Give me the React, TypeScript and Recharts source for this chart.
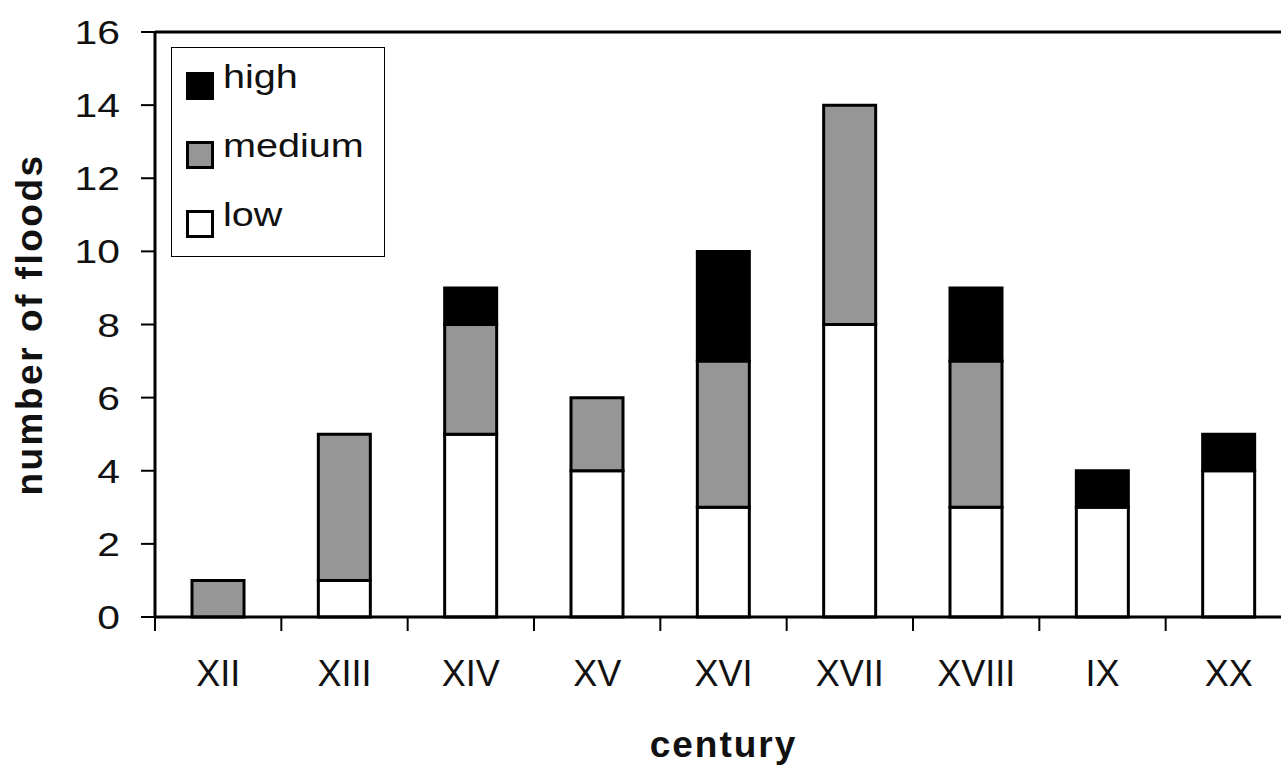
import { BarChart, Bar, XAxis, YAxis, Legend, ReferenceLine } from 'recharts';

const centuries = ['XII', 'XIII', 'XIV', 'XV', 'XVI', 'XVII', 'XVIII', 'IX', 'XX'];
const lowFloods = [0, 1, 5, 4, 3, 8, 3, 3, 4];
const mediumFloods = [1, 4, 3, 2, 4, 6, 4, 0, 0];
const highFloods = [0, 0, 1, 0, 3, 0, 2, 1, 1];
const yTicks = [0, 2, 4, 6, 8, 10, 12, 14, 16];

const series = [
  { key: 'low', name: 'low', fill: '#ffffff' },
  { key: 'medium', name: 'medium', fill: '#969696' },
  { key: 'high', name: 'high', fill: '#000000' },
];

const data = centuries.map((c, i) => ({
  century: c,
  low: lowFloods[i],
  medium: mediumFloods[i],
  high: highFloods[i],
}));

const FONT = '"Liberation Sans", Arial, sans-serif';
const CHART_W = 1300;
const MARGIN = { top: 32, right: 8, left: 0, bottom: 0 };
const Y_AXIS_W = 155;
const X_TICK_MARGIN = 43;

// y tick labels look a bit wide in the original, stretch them slightly
function YTick(props: any) {
  const { x, y, payload } = props;
  return (
    <text
      x={x}
      y={y}
      dy="0.355em"
      textAnchor="end"
      fontSize={34}
      fontFamily={FONT}
      fill="#111"
      transform={`translate(${x},0) scale(1.2,1) translate(${-x},0)`}
    >
      {payload.value}
    </text>
  );
}

// category label in the middle of the band, tick mark on the band's left edge
function XTick(props: any) {
  const { x, y, payload, visibleTicksCount } = props;
  const plotW = typeof props.width === 'number' ? props.width : CHART_W - Y_AXIS_W - MARGIN.right;
  const band = plotW / (visibleTicksCount || centuries.length);
  const axisY = y - X_TICK_MARGIN;
  const edge = x - band / 2;
  return (
    <g>
      <line x1={edge} x2={edge} y1={axisY} y2={axisY + 14} stroke="#000" strokeWidth={2} />
      <text
        x={x}
        y={y}
        dy="0.71em"
        textAnchor="middle"
        fontSize={36}
        fontFamily={FONT}
        fill="#111"
      >
        {payload.value}
      </text>
    </g>
  );
}

function LegendBox() {
  const rows = [...series].reverse();
  return (
    <div
      style={{
        width: 214,
        height: 210,
        boxSizing: 'border-box',
        border: '1.5px solid #000',
        background: '#fff',
        position: 'relative',
        fontFamily: FONT,
      }}
    >
      {rows.map((s, i) => (
        <div key={s.key} style={{ position: 'absolute', left: 14, top: 24 + i * 69 }}>
          <div
            style={{
              position: 'absolute',
              left: 0,
              top: 0,
              width: 28,
              height: 28,
              boxSizing: 'border-box',
              border: '3px solid #000',
              background: s.fill,
            }}
          />
          <div
            style={{
              position: 'absolute',
              left: 37,
              top: -12,
              fontSize: 33,
              lineHeight: '33px',
              color: '#111',
              whiteSpace: 'nowrap',
              transform: 'scale(1.2,1)',
              transformOrigin: 'left top',
            }}
          >
            {s.name}
          </div>
        </div>
      ))}
    </div>
  );
}

export default function App() {
  return (
    <div
      style={{
        position: 'fixed',
        left: 0,
        top: 0,
        width: 1281,
        height: 767,
        overflow: 'hidden',
        background: '#fff',
      }}
    >
      <BarChart width={CHART_W} height={767} data={data} margin={MARGIN} barSize={52}>
        <XAxis
          dataKey="century"
          height={150}
          tickLine={false}
          tickSize={0}
          tickMargin={X_TICK_MARGIN}
          axisLine={{ stroke: '#000', strokeWidth: 3 }}
          tick={<XTick />}
          interval={0}
          label={{
            value: 'century',
            position: 'insideBottom',
            offset: 10,
            style: { fontSize: 37, fontWeight: 700, letterSpacing: 2, fill: '#111', fontFamily: FONT },
          }}
        />
        <YAxis
          width={Y_AXIS_W}
          domain={[0, 16]}
          ticks={yTicks}
          interval={0}
          tickSize={14}
          tickMargin={21}
          axisLine={{ stroke: '#000', strokeWidth: 3 }}
          tickLine={{ stroke: '#000', strokeWidth: 2 }}
          tick={<YTick />}
          label={{
            value: 'number of floods',
            angle: -90,
            position: 'insideLeft',
            offset: 29,
            style: {
              textAnchor: 'middle',
              fontSize: 37,
              fontWeight: 700,
              letterSpacing: 2.5,
              fill: '#111',
              fontFamily: FONT,
            },
          }}
        />
        <ReferenceLine y={16} stroke="#000" strokeWidth={3} />
        {series.map((s) => (
          <Bar
            key={s.key}
            dataKey={s.key}
            name={s.name}
            stackId="floods"
            fill={s.fill}
            stroke="#000"
            strokeWidth={3}
            isAnimationActive={false}
          />
        ))}
        <Legend
          layout="vertical"
          align="center"
          verticalAlign="middle"
          content={() => <LegendBox />}
          wrapperStyle={{ left: 171, top: 47, width: 214, height: 210 }}
        />
      </BarChart>
    </div>
  );
}
